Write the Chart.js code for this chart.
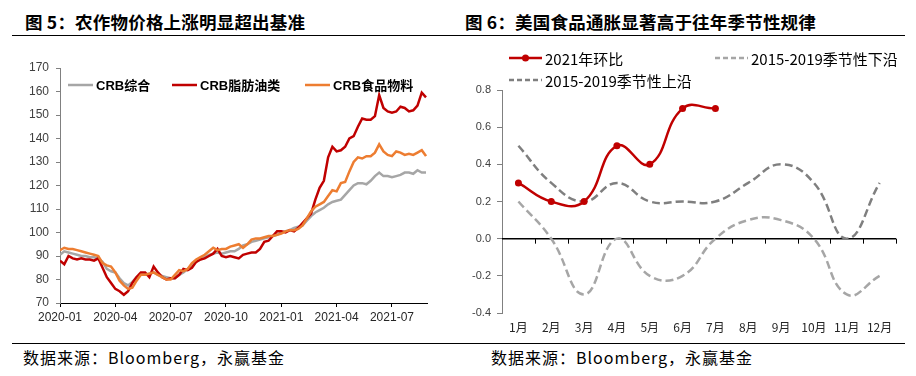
<!DOCTYPE html>
<html>
<head>
<meta charset="utf-8">
<script src="https://cdn.jsdelivr.net/npm/chart.js@4.4.1/dist/chart.umd.min.js"></script>
<style>
  body { margin: 0; background: #fff; }
  #page { position: relative; width: 916px; height: 376px; overflow: hidden; background: #fff; font-family: "Noto Sans CJK SC", sans-serif; }
  .title { position: absolute; top: 9px; font-size: 17.5px; font-weight: 700; color: #000; white-space: nowrap; letter-spacing: 0.2px; }
  .rule { position: absolute; left: 12px; width: 893px; height: 0; border-top: 1.5px solid #000; }
  .source { position: absolute; top: 345px; font-size: 16px; letter-spacing: 1px; color: #000; white-space: nowrap; }
  canvas { position: absolute; }
</style>
</head>
<body>
<div id="page">
  <div class="title" style="left:25px">图 5：农作物价格上涨明显超出基准</div>
  <div class="title" style="left:465px">图 6：美国食品通胀显著高于往年季节性规律</div>
  <div class="rule" style="top:35px"></div>
  <canvas id="crb" width="450" height="285" style="left:0;top:50px"></canvas>
  <canvas id="cpi" width="456" height="290" style="left:460px;top:50px"></canvas>
  <div class="rule" style="top:343px"></div>
  <div class="source" style="left:23px">数据来源：Bloomberg，永赢基金</div>
  <div class="source" style="left:491px">数据来源：Bloomberg，永赢基金</div>
</div>
<script>
// ---- left chart: CRB indices, weekly readings from 2020-01 ----
const crbNames = ["CRB综合", "CRB脂肪油类", "CRB食品物料"];
const crbTickLabels = ["2020-01", "2020-04", "2020-07", "2020-10", "2021-01", "2021-04", "2021-07"];
const monthsPerWeek = 12 / 52;
const crbComposite = [
  90.5, 92, 91.5, 91, 90.5, 90, 90, 89.5, 89.5, 89,
  87.5, 84.5, 83.5, 83, 80.5, 78.5, 77.5, 79, 81, 82,
  82, 82.5, 83, 82, 81.5, 81, 80.5, 80.5, 82, 83,
  84.5, 86, 87.5, 88.5, 89.5, 90.5, 91, 91.5, 91, 91.5,
  92, 92, 93, 94.5, 95, 96, 96.5, 97, 97.5, 98,
  98.5, 99, 100, 100.5, 101, 102, 102.5, 103, 105, 107,
  108.5, 109.5, 110.5, 112, 113, 113.5, 114, 116, 118, 120,
  121, 121, 120.5, 122, 124, 125.5, 124, 124, 123.5, 124,
  124.5, 125.5, 125.5, 125, 126.5, 125.5, 125.5
];
const crbFatsOils = [
  88, 86.5, 90, 89, 88.5, 89, 88.5, 88.5, 88, 89,
  85, 81, 78.5, 76, 75, 73.5, 75, 78.5, 81, 83,
  83, 81, 85.5, 83, 81, 80, 80.5, 80.5, 82, 84.5,
  84, 85, 87.5, 88.5, 89, 90, 91, 93, 90, 89.5,
  90, 89.5, 89, 90.5, 91, 91.5, 91.5, 93, 96, 96.5,
  98.5, 100.5, 100.5, 100, 101, 100.5, 102, 104, 106, 108,
  114, 119, 122, 132, 136.5, 134.5, 135, 136.5, 140, 141,
  145, 148.5, 148, 148, 149.5, 158.5, 153, 151.5, 151, 151.5,
  153.5, 153, 151.5, 152, 154, 159.5, 157.5
];
const crbFoodstuffs = [
  92.5, 93.5, 93, 93, 92.5, 92, 91.5, 91, 90.5, 90,
  87, 86, 85.5, 83, 79.5, 77.5, 76, 76.5, 79.5, 82,
  82, 82.5, 83, 82, 81, 80, 80, 82, 84, 83.5,
  84.5, 87, 88.5, 89.5, 90.5, 92, 93.5, 92.5, 93, 93,
  94, 94.5, 95, 93.5, 95, 97, 97.5, 97.5, 98, 98.5,
  98.5, 99, 99.5, 100.5, 101, 101, 101.5, 103, 106, 109,
  111, 112, 113, 115.5, 118, 117.5, 121, 121.5, 126, 130,
  132, 131.5, 132.5, 132.5, 134, 137.5, 134.5, 133, 132.5, 134.5,
  134, 133, 133.5, 133, 134, 135, 132.5
];

// ---- right chart: US food CPI m/m vs 2015-2019 seasonal band ----
const cpiNames = ["2021年环比", "2015-2019季节性下沿", "2015-2019季节性上沿"];
const months = ["1月", "2月", "3月", "4月", "5月", "6月", "7月", "8月", "9月", "10月", "11月", "12月"];
const mom2021 = [0.3, 0.2, 0.2, 0.5, 0.4, 0.7, 0.7];
const seasonalLow = [0.2, 0.0, -0.3, 0.0, -0.2, -0.2, 0.0, 0.1, 0.1, 0.0, -0.3, -0.2];
const seasonalHigh = [0.5, 0.3, 0.2, 0.3, 0.2, 0.2, 0.2, 0.3, 0.4, 0.3, 0.0, 0.3];

const RED = "#C00000", ORANGE = "#ED7D31", GREY = "#A6A6A6", DARKGREY = "#7F7F7F";
Chart.defaults.font.family = "'Liberation Sans', Arial, sans-serif";
Chart.defaults.color = "#404040";

function manualLegend(items) {
  return {
    id: "manualLegend",
    afterDraw(chart) {
      const { ctx } = chart;
      items.forEach((it) => {
        ctx.save();
        ctx.strokeStyle = it.color;
        ctx.lineWidth = it.width;
        ctx.setLineDash(it.dash || []);
        ctx.beginPath();
        ctx.moveTo(it.x, it.y);
        ctx.lineTo(it.x + it.len, it.y);
        ctx.stroke();
        if (it.marker) {
          ctx.setLineDash([]);
          ctx.fillStyle = it.color;
          ctx.beginPath();
          ctx.arc(it.x + it.len / 2, it.y, 3.5, 0, Math.PI * 2);
          ctx.fill();
        }
        ctx.fillStyle = "#000";
        ctx.font = it.font;
        ctx.textBaseline = "middle";
        ctx.fillText(it.label, it.x + it.len + 3, it.y + 1);
        ctx.restore();
      });
    },
  };
}

const toPoints = (values) => values.map((v, i) => ({ x: i * monthsPerWeek, y: v }));
const legendFontL = "bold 13px 'Liberation Sans', 'Noto Sans CJK SC', sans-serif";

new Chart(document.getElementById("crb"), {
  type: "line",
  data: {
    datasets: [
      { label: crbNames[0], data: toPoints(crbComposite), borderColor: GREY, order: 2 },
      { label: crbNames[1], data: toPoints(crbFatsOils), borderColor: RED, order: 1 },
      { label: crbNames[2], data: toPoints(crbFoodstuffs), borderColor: ORANGE, order: 0 },
    ],
  },
  plugins: [manualLegend([
    { label: crbNames[0], color: GREY, width: 2.5, x: 68, y: 35, len: 25, font: legendFontL },
    { label: crbNames[1], color: RED, width: 2.5, x: 172, y: 35, len: 25, font: legendFontL },
    { label: crbNames[2], color: ORANGE, width: 2.5, x: 305, y: 35, len: 25, font: legendFontL },
  ])],
  options: {
    responsive: false,
    animation: false,
    layout: { padding: { left: 0, top: 18, right: 23, bottom: 0 } },
    elements: { point: { radius: 0 }, line: { borderWidth: 2.5, tension: 0 } },
    plugins: { legend: { display: false }, tooltip: { enabled: false } },
    scales: {
      x: {
        type: "linear",
        min: 0,
        max: 19.9,
        afterFit: (s) => { s.height = 32; },
        afterBuildTicks: (s) => { s.ticks = crbTickLabels.map((_, i) => ({ value: i * 3 })); },
        grid: { drawOnChartArea: false, tickLength: 4, color: "#000" },
        border: { color: "#000" },
        ticks: {
          autoSkip: false, maxRotation: 0, padding: 3,
          font: { size: 12 }, color: "#262626",
          callback: (v) => crbTickLabels[Math.round(v / 3)],
        },
      },
      y: {
        min: 70,
        max: 170,
        afterFit: (s) => { s.width = 60; },
        grid: { drawOnChartArea: false, tickLength: 4, color: "#808080" },
        border: { color: "#808080" },
        ticks: { stepSize: 10, padding: 7, font: { size: 12 }, color: "#404040" },
      },
    },
  },
});

const zeroAxis = {
  id: "zeroAxis",
  beforeDatasetsDraw(chart) {
    const { ctx, scales: { x, y } } = chart;
    const y0 = y.getPixelForValue(0);
    const step = (x.right - x.left) / months.length;
    ctx.save();
    ctx.strokeStyle = "#000";
    ctx.lineWidth = 1.5;
    ctx.beginPath();
    ctx.moveTo(x.left, y0);
    ctx.lineTo(x.right, y0);
    ctx.stroke();
    ctx.lineWidth = 1;
    for (let i = 1; i <= months.length; i++) {
      const px = Math.round(x.left + i * step) + 0.5;
      ctx.beginPath();
      ctx.moveTo(px, y0);
      ctx.lineTo(px, y0 + 5);
      ctx.stroke();
    }
    ctx.restore();
  },
};

const legendFontR = "15px 'Noto Sans CJK SC', sans-serif";

new Chart(document.getElementById("cpi"), {
  type: "line",
  data: {
    labels: months,
    datasets: [
      {
        label: cpiNames[0], data: mom2021, borderColor: RED, backgroundColor: RED,
        borderWidth: 2.5, pointRadius: 3.5, pointBorderWidth: 0, tension: 0.45, order: 0,
      },
      {
        label: cpiNames[1], data: seasonalLow, borderColor: GREY, borderDash: [8, 4],
        borderWidth: 2.5, pointRadius: 0, tension: 0.45, order: 2,
      },
      {
        label: cpiNames[2], data: seasonalHigh, borderColor: DARKGREY, borderDash: [8, 4],
        borderWidth: 2.5, pointRadius: 0, tension: 0.45, order: 1,
      },
    ],
  },
  plugins: [zeroAxis, manualLegend([
    { label: cpiNames[0], color: RED, width: 2.5, x: 49, y: 8, len: 33, marker: true, font: legendFontR },
    { label: cpiNames[1], color: GREY, width: 2.5, dash: [5, 3], x: 255, y: 8, len: 33, font: legendFontR },
    { label: cpiNames[2], color: DARKGREY, width: 2.5, dash: [5, 3], x: 49, y: 30, len: 33, font: legendFontR },
  ])],
  options: {
    responsive: false,
    animation: false,
    layout: { padding: { left: 0, top: 40, right: 20, bottom: 0 } },
    plugins: { legend: { display: false }, tooltip: { enabled: false } },
    scales: {
      x: {
        offset: true,
        afterFit: (s) => { s.height = 27; },
        grid: { display: false, drawTicks: false },
        border: { display: false },
        ticks: { padding: 7, font: { family: "'Noto Sans CJK SC', sans-serif", size: 12 }, color: "#262626" },
      },
      y: {
        min: -0.4,
        max: 0.8,
        afterFit: (s) => { s.width = 42; },
        grid: { drawOnChartArea: false, tickLength: 5, color: "#808080" },
        border: { color: "#808080" },
        ticks: { stepSize: 0.2, padding: 6, font: { size: 11 }, color: "#404040", callback: (v) => v.toFixed(1) },
      },
    },
  },
});
</script>
</body>
</html>
